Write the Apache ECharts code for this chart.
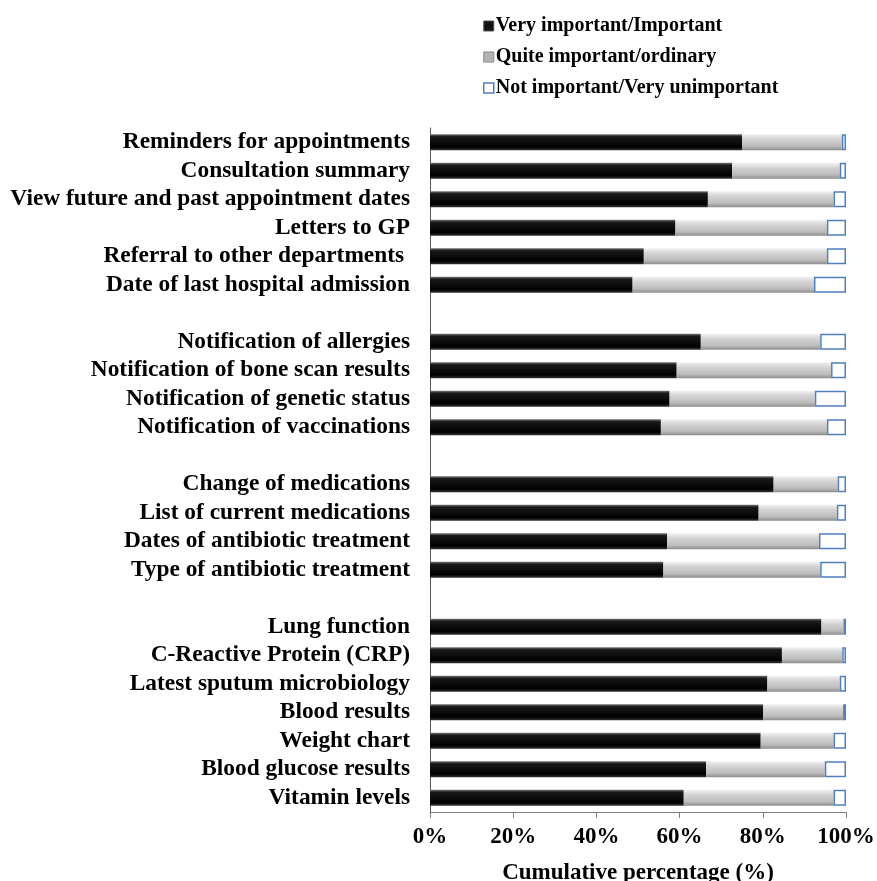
<!DOCTYPE html>
<html>
<head>
<meta charset="utf-8">
<script src="https://cdn.jsdelivr.net/npm/echarts@6/dist/echarts.min.js"></script>
<style>html,body{margin:0;padding:0;background:#fff;}#c{width:877px;height:881px;}</style>
</head>
<body>
<div id="c"></div>
<script>
const categories = [
  'Reminders for appointments',
  'Consultation summary',
  'View future and past appointment dates',
  'Letters to GP',
  'Referral to other departments ',
  'Date of last hospital admission',
  ' ',
  'Notification of allergies',
  'Notification of bone scan results',
  'Notification of genetic status',
  'Notification of vaccinations',
  '  ',
  'Change of medications',
  'List of current medications',
  'Dates of antibiotic treatment',
  'Type of antibiotic treatment',
  '   ',
  'Lung function',
  'C-Reactive Protein (CRP)',
  'Latest sputum microbiology',
  'Blood results',
  'Weight chart',
  'Blood glucose results',
  'Vitamin levels'
];
const veryImportant = [75.0, 72.6, 66.8, 59.0, 51.4, 48.7, '-', 65.1, 59.3, 57.6, 55.5, '-', 82.6, 79.0, 57.0, 56.1, '-', 94.1, 84.6, 81.1, 80.1, 79.5, 66.4, 61.0];
const quiteImportant = [24.0, 25.9, 30.2, 36.4, 44.0, 43.6, '-', 28.7, 37.1, 34.9, 39.9, '-', 15.4, 18.8, 36.5, 37.7, '-', 5.3, 14.5, 17.4, 19.2, 17.5, 28.5, 36.0];
const notImportant = [1.0, 1.5, 3.0, 4.6, 4.6, 7.7, '-', 6.2, 3.6, 7.5, 4.6, '-', 2.0, 2.2, 6.5, 6.2, '-', 0.6, 0.9, 1.5, 0.7, 3.0, 5.1, 3.0];
const seriesNames = ['Very important/Important', 'Quite important/ordinary', 'Not important/Very unimportant'];
const xTicks = [0, 20, 40, 60, 80, 100];

const FONT = '"Liberation Serif", "Times New Roman", serif';
const chart = echarts.init(document.getElementById('c'), null, {renderer: 'canvas'});
const blackGrad = new echarts.graphic.LinearGradient(0, 0, 0, 1, [
  {offset: 0, color: '#777'}, {offset: 0.15, color: '#1a1a1a'}, {offset: 0.8, color: '#000'}, {offset: 1, color: '#333'}
]);
const greyGrad = new echarts.graphic.LinearGradient(0, 0, 0, 1, [
  {offset: 0, color: '#f2f2f2'}, {offset: 0.3, color: '#d4d4d4'}, {offset: 0.75, color: '#bcbcbc'}, {offset: 1, color: '#8c8c8c'}
]);
const barW = 16;
chart.setOption({
  animation: false,
  backgroundColor: '#fff',
  legend: {
    orient: 'vertical',
    left: 478,
    top: 11,
    itemGap: 11,
    itemWidth: 10,
    itemHeight: 10,
    icon: 'rect',
    textStyle: {fontFamily: FONT, fontWeight: 'bold', fontSize: 20, color: '#000', padding: [0, 0, 0, -3]},
    data: [
      {name: seriesNames[0], itemStyle: {color: '#111', borderColor: '#555', borderWidth: 1}},
      {name: seriesNames[1], itemStyle: {color: '#b4b4b4', borderColor: '#888', borderWidth: 1}},
      {name: seriesNames[2], itemStyle: {color: '#fff', borderColor: '#4f7fc0', borderWidth: 1.5}}
    ]
  },
  grid: {left: 430, right: 31, top: 128, bottom: 69, containLabel: false, outerBoundsMode: 'none'},
  xAxis: {
    type: 'value',
    min: 0, max: 100, interval: 20,
    axisLine: {show: true, lineStyle: {color: '#7f7f7f', width: 1}},
    axisTick: {show: true, length: 6, lineStyle: {color: '#7f7f7f'}},
    splitLine: {show: false},
    axisLabel: {formatter: v => xTicks.includes(v) ? v + '%' : '', fontFamily: FONT, fontWeight: 'bold', fontSize: 23, color: '#000', margin: 14},
    name: 'Cumulative percentage (%)',
    nameLocation: 'middle',
    nameGap: 50,
    nameTextStyle: {fontFamily: FONT, fontWeight: 'bold', fontSize: 23, color: '#000'}
  },
  yAxis: {
    type: 'category',
    inverse: true,
    data: categories,
    axisLine: {show: true, lineStyle: {color: '#555', width: 1}},
    axisTick: {show: false},
    axisLabel: {fontFamily: FONT, fontWeight: 'bold', fontSize: 23.4, color: '#000', margin: 20, interval: 0}
  },
  series: [
    {name: seriesNames[0], type: 'bar', stack: 't', barWidth: barW, data: veryImportant,
     itemStyle: {color: blackGrad}},
    {name: seriesNames[1], type: 'bar', stack: 't', barWidth: barW, data: quiteImportant,
     itemStyle: {color: greyGrad}},
    {name: seriesNames[2], type: 'bar', stack: 't', barWidth: barW, data: notImportant,
     itemStyle: {color: '#fff', borderColor: '#4f7fc0', borderWidth: 1.5}}
  ]
});
</script>
</body>
</html>
